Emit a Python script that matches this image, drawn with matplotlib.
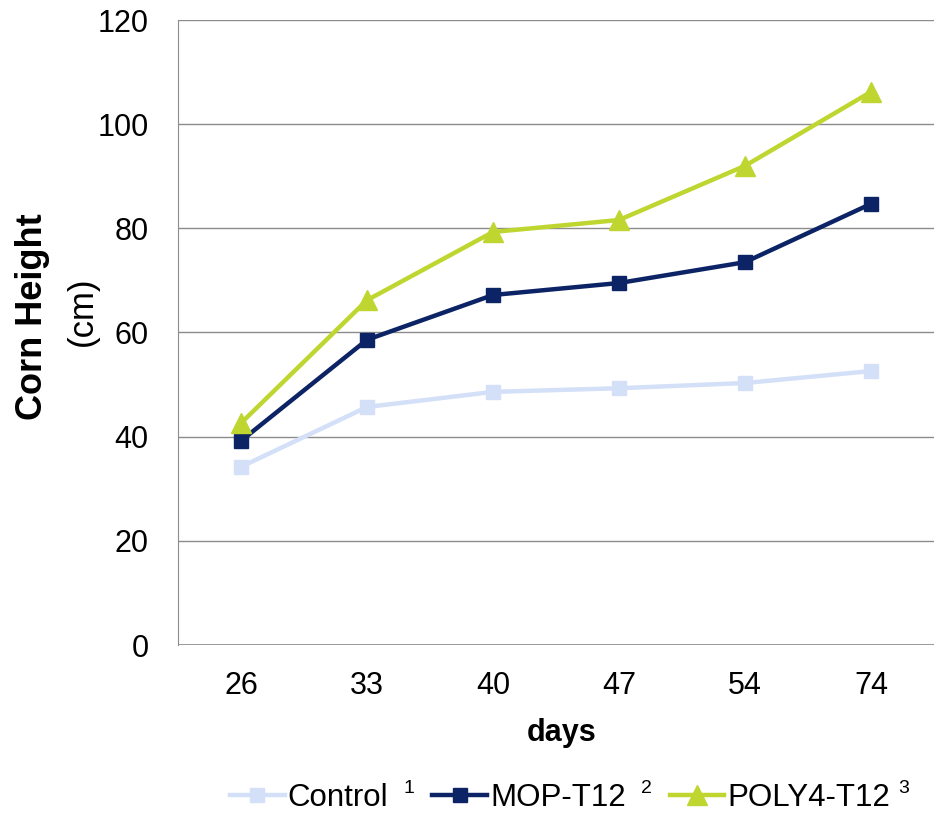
import numpy as np
import matplotlib.pyplot as plt

plt.rcParams['font.family'] = ['Liberation Sans', 'DejaVu Sans']

days = ["26", "33", "40", "47", "54", "74"]
control = [34.2, 45.7, 48.6, 49.3, 50.3, 52.6]
mop_t12 = [39.2, 58.6, 67.2, 69.5, 73.5, 84.7]
poly4_t12 = [42.6, 66.2, 79.3, 81.6, 92.0, 106.2]

c_control = "#d3e0f8"
c_mop = "#0c2466"
c_poly = "#bfd630"

fig = plt.figure(figsize=(9.4, 8.13), dpi=100)
ax = fig.add_axes([178 / 940, 168 / 813, 756 / 940, 625 / 813])

x = np.arange(len(days))
ax.plot(x, control, '-s', color=c_control, lw=3.2, ms=10, label="Control", zorder=3)
ax.plot(x, mop_t12, '-s', color=c_mop, lw=3.2, ms=10, label="MOP-T12", zorder=4)
ax.plot(x, poly4_t12, '-^', color=c_poly, lw=3.2, ms=14, label="POLY4-T12", zorder=5)

ax.set_xlim(-0.5, len(days) - 0.5)
ax.set_ylim(0, 120)
ax.set_yticks(range(0, 121, 20))
ax.set_xticks(x)
ax.set_xticklabels(days)
ax.tick_params(axis='both', length=0, labelsize=22)
ax.tick_params(axis='y', pad=21)
ax.tick_params(axis='x', pad=19)
ax.yaxis.grid(True, color="#8c8c8c", lw=1)
ax.set_axisbelow(True)
for s in ["top", "right", "bottom"]:
    ax.spines[s].set_visible(False)
ax.spines["left"].set_color("#8c8c8c")
ax.axhline(0, color="#8c8c8c", lw=1.2, zorder=1)

fig.text(562 / 940, 1 - 733 / 813, "days", ha="center", va="center",
         fontsize=22, fontweight="bold")
fig.text(33 / 940, 1 - 317 / 813, "Corn Height", rotation=90, ha="center",
         va="center", fontsize=26, fontweight="bold")
fig.text(82 / 940, 1 - 311 / 813, "(cm)", rotation=90, ha="center",
         va="center", fontsize=25)

# legend with superscript footnote numbers placed after each label
handles, labels = ax.get_legend_handles_labels()
leg = fig.legend(handles, labels, loc="center left",
                 bbox_to_anchor=(230 / 940, 1 - 798 / 813), ncol=3, frameon=False,
                 fontsize=22.5, handlelength=1.75, handletextpad=0.1,
                 columnspacing=1.4, borderpad=0, borderaxespad=0)
fig.canvas.draw()
for t, sup, off in zip(leg.get_texts(), ["1", "2", "3"], [15, 15, 8]):
    bb = t.get_window_extent()
    fig.text((bb.x1 + off) / 940, 1 - 780 / 813, sup, ha="left", va="top",
             fontsize=14)

fig.savefig("out.png", dpi=100)
